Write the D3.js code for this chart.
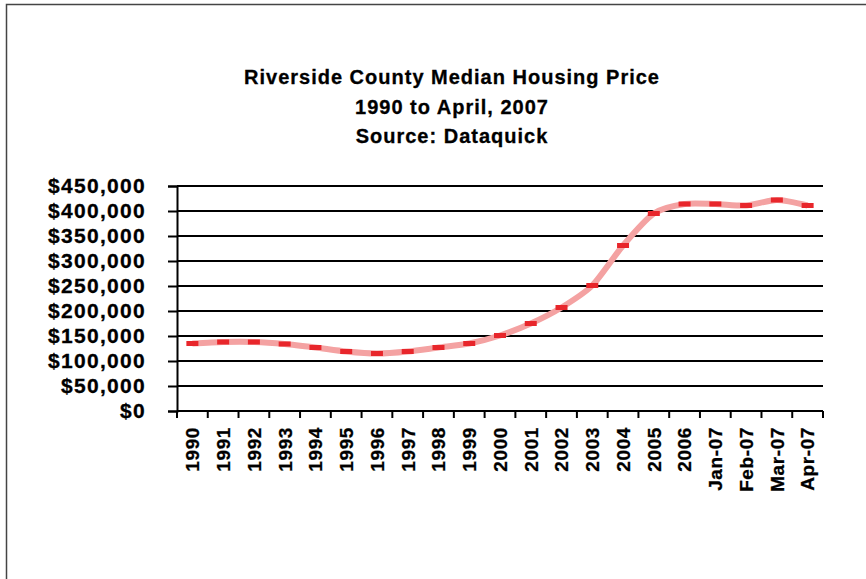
<!DOCTYPE html>
<html>
<head>
<meta charset="utf-8">
<script src="https://cdn.jsdelivr.net/npm/d3@7"></script>
<style>
  body { margin: 0; background: #fff; }
  text { font-family: Arial, "Liberation Sans", sans-serif; font-weight: bold; fill: #000; stroke: #000; stroke-width: 0.3px; }
</style>
</head>
<body>
<div id="canvas"></div>
<script>
const categories = ["1990","1991","1992","1993","1994","1995","1996","1997","1998","1999",
                    "2000","2001","2002","2003","2004","2005","2006","Jan-07","Feb-07","Mar-07","Apr-07"];
const prices = [135000,138000,138000,134000,127000,119000,115000,119000,127000,135000,
                151000,175000,207000,251000,331000,395000,414000,414000,411000,422000,411000];
const yTicks = [0,50000,100000,150000,200000,250000,300000,350000,400000,450000];
const titleLines = ["Riverside County Median Housing Price","1990 to April, 2007","Source: Dataquick"];

const w = 866;
const h = 579;
const margin = { top: 186, bottom: 168, left: 177, right: 43 };

const svg = d3.select("#canvas")
              .append("svg")
              .attr("width", w)
              .attr("height", h);

// outer frame (only top and left edges show)
svg.append("path")
   .attr("d", "M6.5," + h + "V4.5H" + w)
   .attr("fill", "none")
   .attr("stroke", "#444")
   .attr("stroke-width", 1.5);

// title
svg.selectAll(".title")
   .data(titleLines)
   .enter()
   .append("text")
   .attr("class", "title")
   .attr("x", 452)
   .attr("y", (d, i) => 84 + i * 29.5)
   .attr("text-anchor", "middle")
   .style("font-size", "20px")
   .style("letter-spacing", "1px")
   .text(d => d);

const x = d3.scaleBand()
            .domain(categories)
            .range([margin.left, w - margin.right]);

const y = d3.scaleLinear()
            .domain([0, 450000])
            .range([h - margin.bottom, margin.top - 0]);
y.range([411, 186]);

// gridlines
svg.append("g")
   .selectAll("line")
   .data(yTicks)
   .enter()
   .append("line")
   .attr("x1", margin.left)
   .attr("x2", w - margin.right)
   .attr("y1", d => y(d))
   .attr("y2", d => y(d))
   .attr("stroke", "#000")
   .attr("stroke-width", 2);

// y axis
const yAxis = d3.axisLeft(y)
                .tickValues(yTicks)
                .tickSize(9)
                .tickPadding(22)
                .tickFormat(d3.format("$,"));

const gy = svg.append("g")
              .attr("transform", "translate(" + margin.left + ",0)")
              .call(yAxis);
gy.select(".domain").attr("stroke", "#000").attr("stroke-width", 2);
gy.selectAll(".tick line").attr("stroke", "#000").attr("stroke-width", 2);
gy.selectAll(".tick text")
  .style("font-size", "21px")
  .style("letter-spacing", "1.3px")
  .style("font-family", "Arial, 'Liberation Sans', sans-serif")
  .style("font-weight", "bold")
  .attr("fill", "#000");

// x axis tick marks at category boundaries
const edges = categories.map(c => x(c)).concat([x.range()[1]]);
svg.append("g")
   .selectAll("line")
   .data(edges)
   .enter()
   .append("line")
   .attr("x1", d => d)
   .attr("x2", d => d)
   .attr("y1", y(0))
   .attr("y2", y(0) + 7)
   .attr("stroke", "#000")
   .attr("stroke-width", 2);

// x labels
svg.append("g")
   .selectAll("text")
   .data(categories)
   .enter()
   .append("text")
   .attr("transform", d => "translate(" + (x(d) + x.bandwidth() / 2) + ",427) rotate(-90)")
   .attr("dy", "0.36em")
   .attr("text-anchor", "end")
   .style("font-size", "19px")
   .style("letter-spacing", "0.6px")
   .text(d => d);

// line
const line = d3.line()
               .x((d, i) => x(categories[i]) + x.bandwidth() / 2)
               .y(d => y(d))
               .curve(d3.curveCardinal.tension(0.25));

svg.append("path")
   .datum(prices)
   .attr("d", line)
   .attr("fill", "none")
   .attr("stroke", "#f4a2a2")
   .attr("stroke-width", 6);

// markers
svg.append("g")
   .selectAll("rect")
   .data(prices)
   .enter()
   .append("rect")
   .attr("x", (d, i) => x(categories[i]) + x.bandwidth() / 2 - 6)
   .attr("y", d => y(d) - 2.5)
   .attr("width", 12)
   .attr("height", 5)
   .attr("fill", "#e8262b");
</script>
</body>
</html>
